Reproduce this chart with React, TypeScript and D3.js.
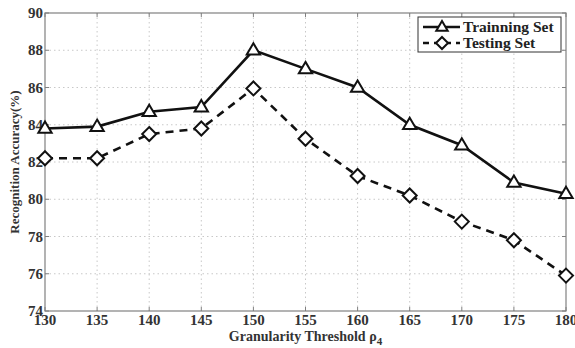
import React from "react";
import * as d3 from "d3";

const thresholds = [130, 135, 140, 145, 150, 155, 160, 165, 170, 175, 180];
const trainingAcc = [83.8, 83.9, 84.7, 84.95, 88.0, 87.0, 86.0, 84.0, 82.9, 80.9, 80.3];
const testingAcc = [82.2, 82.2, 83.5, 83.8, 85.95, 83.25, 81.25, 80.2, 78.8, 77.8, 75.9];
const xTicks = [130, 135, 140, 145, 150, 155, 160, 165, 170, 175, 180];
const yTicks = [74, 76, 78, 80, 82, 84, 86, 88, 90];

const W = 575;
const H = 348;
const M = { left: 45, right: 9, top: 13, bottom: 37 };
const FONT = "'Liberation Serif', 'Times New Roman', serif";

export default function App() {
  const x = d3.scaleLinear().domain([130, 180]).range([M.left, W - M.right]);
  const y = d3.scaleLinear().domain([74, 90]).range([H - M.bottom, M.top]);
  const line = d3
    .line<number>()
    .x((_, i) => x(thresholds[i]))
    .y((d) => y(d));

  const tri = (cx: number, cy: number, s = 7) =>
    `M${cx},${cy - s}L${cx + s * 0.95},${cy + s * 0.62}L${cx - s * 0.95},${cy + s * 0.62}Z`;
  const dia = (cx: number, cy: number, s = 7) =>
    `M${cx},${cy - s}L${cx + s},${cy}L${cx},${cy + s}L${cx - s},${cy}Z`;

  const x0 = M.left;
  const x1 = W - M.right;
  const y0 = M.top;
  const y1 = H - M.bottom;

  const lgX = 418;
  const lgY = 17;

  return (
    <svg width={W} height={H} style={{ position: "absolute", left: 0, top: 0, background: "#fff" }}>
      {/* grid */}
      {xTicks.slice(1, -1).map((t) => (
        <line key={"gx" + t} x1={x(t)} x2={x(t)} y1={y0} y2={y1} stroke="#c8c8c8" strokeWidth={1} strokeDasharray="1.5,3" />
      ))}
      {yTicks.slice(1, -1).map((t) => (
        <line key={"gy" + t} x1={x0} x2={x1} y1={y(t)} y2={y(t)} stroke="#c8c8c8" strokeWidth={1} strokeDasharray="1.5,3" />
      ))}
      {/* frame */}
      <rect x={x0} y={y0} width={x1 - x0} height={y1 - y0} fill="none" stroke="#808080" strokeWidth={1.2} />
      {/* ticks */}
      {xTicks.map((t) => (
        <g key={"tx" + t}>
          <line x1={x(t)} x2={x(t)} y1={y1} y2={y1 - 4} stroke="#808080" />
          <line x1={x(t)} x2={x(t)} y1={y0} y2={y0 + 4} stroke="#808080" />
          <text x={x(t)} y={y1 + 14} textAnchor="middle" fontFamily={FONT} fontWeight="bold" fontSize={15} fill="#333">
            {t}
          </text>
        </g>
      ))}
      {yTicks.map((t) => (
        <g key={"ty" + t}>
          <line x1={x0} x2={x0 + 4} y1={y(t)} y2={y(t)} stroke="#808080" />
          <line x1={x1} x2={x1 - 4} y1={y(t)} y2={y(t)} stroke="#808080" />
          <text x={x0 - 2} y={y(t) + 5} textAnchor="end" fontFamily={FONT} fontWeight="bold" fontSize={15} fill="#333">
            {t}
          </text>
        </g>
      ))}
      {/* series */}
      <path d={line(trainingAcc) || ""} fill="none" stroke="#111" strokeWidth={2.6} />
      <path d={line(testingAcc) || ""} fill="none" stroke="#111" strokeWidth={2.6} strokeDasharray="8,6" />
      {trainingAcc.map((v, i) => (
        <path key={"m1" + i} d={tri(x(thresholds[i]), y(v))} fill="#fff" stroke="#111" strokeWidth={2} />
      ))}
      {testingAcc.map((v, i) => (
        <path key={"m2" + i} d={dia(x(thresholds[i]), y(v))} fill="#fff" stroke="#111" strokeWidth={2} />
      ))}
      {/* legend */}
      <rect x={lgX} y={lgY} width={143} height={35} fill="#fff" stroke="#333" strokeWidth={1} />
      <line x1={lgX + 5} x2={lgX + 42} y1={lgY + 10} y2={lgY + 10} stroke="#111" strokeWidth={2.6} />
      <path d={tri(lgX + 24, lgY + 10, 6)} fill="#fff" stroke="#111" strokeWidth={2} />
      <text x={lgX + 45} y={lgY + 15} fontFamily={FONT} fontWeight="bold" fontSize={15.5} fill="#222">
        Trainning Set
      </text>
      <line x1={lgX + 5} x2={lgX + 42} y1={lgY + 26} y2={lgY + 26} stroke="#111" strokeWidth={2.6} strokeDasharray="6,5" />
      <path d={dia(lgX + 24, lgY + 26, 6)} fill="#fff" stroke="#111" strokeWidth={2} />
      <text x={lgX + 45} y={lgY + 31} fontFamily={FONT} fontWeight="bold" fontSize={15.5} fill="#222">
        Testing Set
      </text>
      {/* axis titles */}
      <text
        transform={`translate(19,${(y0 + y1) / 2}) rotate(-90)`}
        textAnchor="middle"
        fontFamily={FONT}
        fontWeight="bold"
        fontSize={13}
        fill="#333"
      >
        Recognition Accuracy(%)
      </text>
      <text x={(x0 + x1) / 2} y={H - 7} textAnchor="middle" fontFamily={FONT} fontWeight="bold" fontSize={14} fill="#333">
        Granularity Threshold ρ<tspan fontSize={11} dy={4}>4</tspan>
      </text>
    </svg>
  );
}
